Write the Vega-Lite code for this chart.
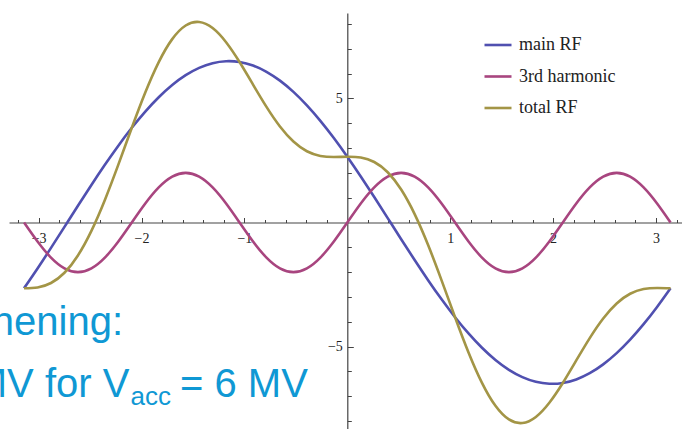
{
  "$schema": "https://vega.github.io/schema/vega-lite/v6.json",
  "width": 673,
  "height": 416,
  "autosize": {"type": "none"},
  "padding": {"left": 9, "top": 13, "right": 0, "bottom": 0},
  "background": "white",
  "config": {"view": {"stroke": null}},
  "datasets": {
    "curves": [
      {"x":-3.1416,"s":"main RF","y":-2.650},{"x":-3.0107,"s":"main RF","y":-1.853},{"x":-2.8798,"s":"main RF","y":-1.024},{"x":-2.7489,"s":"main RF","y":-0.177},{"x":-2.618,"s":"main RF","y":0.673},{"x":-2.4871,"s":"main RF","y":1.511},{"x":-2.3562,"s":"main RF","y":2.323},{"x":-2.2253,"s":"main RF","y":3.096},{"x":-2.0944,"s":"main RF","y":3.815},{"x":-1.9635,"s":"main RF","y":4.470},{"x":-1.8326,"s":"main RF","y":5.047},{"x":-1.7017,"s":"main RF","y":5.539},{"x":-1.5708,"s":"main RF","y":5.936},{"x":-1.4399,"s":"main RF","y":6.230},{"x":-1.309,"s":"main RF","y":6.419},{"x":-1.1781,"s":"main RF","y":6.497},{"x":-1.0472,"s":"main RF","y":6.465},{"x":-0.9163,"s":"main RF","y":6.322},{"x":-0.7854,"s":"main RF","y":6.071},{"x":-0.6545,"s":"main RF","y":5.715},{"x":-0.5236,"s":"main RF","y":5.262},{"x":-0.3927,"s":"main RF","y":4.719},{"x":-0.2618,"s":"main RF","y":4.096},{"x":-0.1309,"s":"main RF","y":3.403},{"x":0,"s":"main RF","y":2.650},{"x":0.1309,"s":"main RF","y":1.853},{"x":0.2618,"s":"main RF","y":1.024},{"x":0.3927,"s":"main RF","y":0.177},{"x":0.5236,"s":"main RF","y":-0.673},{"x":0.6545,"s":"main RF","y":-1.511},{"x":0.7854,"s":"main RF","y":-2.323},{"x":0.9163,"s":"main RF","y":-3.096},{"x":1.0472,"s":"main RF","y":-3.815},{"x":1.1781,"s":"main RF","y":-4.470},{"x":1.309,"s":"main RF","y":-5.047},{"x":1.4399,"s":"main RF","y":-5.539},{"x":1.5708,"s":"main RF","y":-5.936},{"x":1.7017,"s":"main RF","y":-6.230},{"x":1.8326,"s":"main RF","y":-6.419},{"x":1.9635,"s":"main RF","y":-6.497},{"x":2.0944,"s":"main RF","y":-6.465},{"x":2.2253,"s":"main RF","y":-6.322},{"x":2.3562,"s":"main RF","y":-6.071},{"x":2.4871,"s":"main RF","y":-5.715},{"x":2.618,"s":"main RF","y":-5.262},{"x":2.7489,"s":"main RF","y":-4.719},{"x":2.8798,"s":"main RF","y":-4.096},{"x":3.0107,"s":"main RF","y":-3.403},{"x":3.1416,"s":"main RF","y":-2.650},
      {"x":-3.1416,"s":"3rd harmonic","y":0},{"x":-3.0107,"s":"3rd harmonic","y":-0.765},{"x":-2.8798,"s":"3rd harmonic","y":-1.414},{"x":-2.7489,"s":"3rd harmonic","y":-1.848},{"x":-2.618,"s":"3rd harmonic","y":-2},{"x":-2.4871,"s":"3rd harmonic","y":-1.848},{"x":-2.3562,"s":"3rd harmonic","y":-1.414},{"x":-2.2253,"s":"3rd harmonic","y":-0.765},{"x":-2.0944,"s":"3rd harmonic","y":0},{"x":-1.9635,"s":"3rd harmonic","y":0.765},{"x":-1.8326,"s":"3rd harmonic","y":1.414},{"x":-1.7017,"s":"3rd harmonic","y":1.848},{"x":-1.5708,"s":"3rd harmonic","y":2},{"x":-1.4399,"s":"3rd harmonic","y":1.848},{"x":-1.309,"s":"3rd harmonic","y":1.414},{"x":-1.1781,"s":"3rd harmonic","y":0.765},{"x":-1.0472,"s":"3rd harmonic","y":0},{"x":-0.9163,"s":"3rd harmonic","y":-0.765},{"x":-0.7854,"s":"3rd harmonic","y":-1.414},{"x":-0.6545,"s":"3rd harmonic","y":-1.848},{"x":-0.5236,"s":"3rd harmonic","y":-2},{"x":-0.3927,"s":"3rd harmonic","y":-1.848},{"x":-0.2618,"s":"3rd harmonic","y":-1.414},{"x":-0.1309,"s":"3rd harmonic","y":-0.765},{"x":0,"s":"3rd harmonic","y":0},{"x":0.1309,"s":"3rd harmonic","y":0.765},{"x":0.2618,"s":"3rd harmonic","y":1.414},{"x":0.3927,"s":"3rd harmonic","y":1.848},{"x":0.5236,"s":"3rd harmonic","y":2},{"x":0.6545,"s":"3rd harmonic","y":1.848},{"x":0.7854,"s":"3rd harmonic","y":1.414},{"x":0.9163,"s":"3rd harmonic","y":0.765},{"x":1.0472,"s":"3rd harmonic","y":0},{"x":1.1781,"s":"3rd harmonic","y":-0.765},{"x":1.309,"s":"3rd harmonic","y":-1.414},{"x":1.4399,"s":"3rd harmonic","y":-1.848},{"x":1.5708,"s":"3rd harmonic","y":-2},{"x":1.7017,"s":"3rd harmonic","y":-1.848},{"x":1.8326,"s":"3rd harmonic","y":-1.414},{"x":1.9635,"s":"3rd harmonic","y":-0.765},{"x":2.0944,"s":"3rd harmonic","y":0},{"x":2.2253,"s":"3rd harmonic","y":0.765},{"x":2.3562,"s":"3rd harmonic","y":1.414},{"x":2.4871,"s":"3rd harmonic","y":1.848},{"x":2.618,"s":"3rd harmonic","y":2},{"x":2.7489,"s":"3rd harmonic","y":1.848},{"x":2.8798,"s":"3rd harmonic","y":1.414},{"x":3.0107,"s":"3rd harmonic","y":0.765},{"x":3.1416,"s":"3rd harmonic","y":0},
      {"x":-3.1416,"s":"total RF","y":-2.650},{"x":-3.0107,"s":"total RF","y":-2.618},{"x":-2.8798,"s":"total RF","y":-2.438},{"x":-2.7489,"s":"total RF","y":-2.025},{"x":-2.618,"s":"total RF","y":-1.327},{"x":-2.4871,"s":"total RF","y":-0.337},{"x":-2.3562,"s":"total RF","y":0.909},{"x":-2.2253,"s":"total RF","y":2.331},{"x":-2.0944,"s":"total RF","y":3.815},{"x":-1.9635,"s":"total RF","y":5.235},{"x":-1.8326,"s":"total RF","y":6.461},{"x":-1.7017,"s":"total RF","y":7.387},{"x":-1.5708,"s":"total RF","y":7.936},{"x":-1.4399,"s":"total RF","y":8.078},{"x":-1.309,"s":"total RF","y":7.833},{"x":-1.1781,"s":"total RF","y":7.262},{"x":-1.0472,"s":"total RF","y":6.465},{"x":-0.9163,"s":"total RF","y":5.557},{"x":-0.7854,"s":"total RF","y":4.657},{"x":-0.6545,"s":"total RF","y":3.867},{"x":-0.5236,"s":"total RF","y":3.262},{"x":-0.3927,"s":"total RF","y":2.871},{"x":-0.2618,"s":"total RF","y":2.682},{"x":-0.1309,"s":"total RF","y":2.638},{"x":0,"s":"total RF","y":2.650},{"x":0.1309,"s":"total RF","y":2.618},{"x":0.2618,"s":"total RF","y":2.438},{"x":0.3927,"s":"total RF","y":2.025},{"x":0.5236,"s":"total RF","y":1.327},{"x":0.6545,"s":"total RF","y":0.337},{"x":0.7854,"s":"total RF","y":-0.909},{"x":0.9163,"s":"total RF","y":-2.331},{"x":1.0472,"s":"total RF","y":-3.815},{"x":1.1781,"s":"total RF","y":-5.235},{"x":1.309,"s":"total RF","y":-6.461},{"x":1.4399,"s":"total RF","y":-7.387},{"x":1.5708,"s":"total RF","y":-7.936},{"x":1.7017,"s":"total RF","y":-8.078},{"x":1.8326,"s":"total RF","y":-7.833},{"x":1.9635,"s":"total RF","y":-7.262},{"x":2.0944,"s":"total RF","y":-6.465},{"x":2.2253,"s":"total RF","y":-5.557},{"x":2.3562,"s":"total RF","y":-4.657},{"x":2.4871,"s":"total RF","y":-3.867},{"x":2.618,"s":"total RF","y":-3.262},{"x":2.7489,"s":"total RF","y":-2.871},{"x":2.8798,"s":"total RF","y":-2.682},{"x":3.0107,"s":"total RF","y":-2.638},{"x":3.1416,"s":"total RF","y":-2.650}
    ],
    "bigRight": [
      {"x": -2.179, "y": -4.52, "t": "hening:"},
      {"x": -2.118, "y": -7.03, "t": "MV for V"}
    ],
    "sub": [
      {"x": -2.107, "y": -7.35, "t": "acc"}
    ],
    "bigLeft": [
      {"x": -1.626, "y": -7.03, "t": "= 6 MV"}
    ]
  },
  "resolve": {"axis": {"x": "independent", "y": "independent"}},
  "layer": [
    {
      "data": {"name": "curves"},
      "mark": {"type": "line", "interpolate": "natural", "strokeWidth": 2.6, "clip": true},
      "encoding": {
        "x": {
          "field": "x", "type": "quantitative",
          "scale": {"domain": [-3.288, 3.253], "nice": false, "zero": false},
          "axis": {
            "orient": "bottom", "offset": -206.5, "title": null, "grid": false,
            "values": [-3, -2, -1, 1, 2, 3], "format": "d",
            "tickSize": -5,
            "domainColor": "#444444", "tickColor": "#444444", "domainWidth": 1.2, "tickWidth": 1,
            "labelFont": "Liberation Serif", "labelFontSize": 14, "labelColor": "#222222",
            "labelPadding": 14, "labelOverlap": false, "labelFlush": false, "labelBound": false
          }
        },
        "y": {
          "field": "y", "type": "quantitative",
          "scale": {"domain": [-8.32, 8.44], "nice": false, "zero": false},
          "axis": {
            "orient": "left", "offset": -338.3, "title": null, "grid": false,
            "values": [-5, 5], "format": "d",
            "tickSize": -6,
            "domainColor": "#444444", "tickColor": "#444444", "domainWidth": 1.2, "tickWidth": 1,
            "labelFont": "Liberation Serif", "labelFontSize": 14, "labelColor": "#222222",
            "labelPadding": 11, "labelOverlap": false, "labelFlush": false, "labelBound": false
          }
        },
        "color": {
          "field": "s", "type": "nominal",
          "scale": {"domain": ["main RF", "3rd harmonic", "total RF"], "range": ["#5050b0", "#a8457f", "#a39546"]},
          "legend": {
            "orient": "none", "legendX": 474, "legendY": 17, "title": null, "padding": 0,
            "symbolType": "stroke", "symbolSize": 729, "symbolStrokeWidth": 2.6,
            "labelFont": "Liberation Serif", "labelFontSize": 18, "labelColor": "#222222",
            "labelOffset": 6, "rowPadding": 7.5
          }
        }
      }
    },
    {
      "data": {"name": "bigLeft"},
      "mark": {"type": "text", "align": "left", "baseline": "alphabetic", "font": "Liberation Sans", "fontSize": 40, "color": "#0f98d4"},
      "encoding": {
        "x": {
          "field": "x", "type": "quantitative",
          "axis": {
            "orient": "bottom", "offset": -206.5, "title": null, "grid": false, "labels": false, "domain": false,
            "values": [-3.2,-2.8,-2.6,-2.4,-2.2,-1.8,-1.6,-1.4,-1.2,-0.8,-0.6,-0.4,-0.2,0.2,0.4,0.6,0.8,1.2,1.4,1.6,1.8,2.2,2.4,2.6,2.8,3.2],
            "tickSize": -3, "tickColor": "#444444", "tickWidth": 1
          }
        },
        "y": {
          "field": "y", "type": "quantitative",
          "axis": {
            "orient": "left", "offset": -338.3, "title": null, "grid": false, "labels": false, "domain": false,
            "values": [-8,-7,-6,-4,-3,-2,-1,1,2,3,4,6,7,8],
            "tickSize": -4, "tickColor": "#444444", "tickWidth": 1
          }
        },
        "text": {"field": "t"}
      }
    },
    {
      "data": {"name": "bigRight"},
      "mark": {"type": "text", "align": "right", "baseline": "alphabetic", "font": "Liberation Sans", "fontSize": 40, "color": "#0f98d4"},
      "encoding": {
        "x": {"field": "x", "type": "quantitative", "axis": null},
        "y": {"field": "y", "type": "quantitative", "axis": null},
        "text": {"field": "t"}
      }
    },
    {
      "data": {"name": "sub"},
      "mark": {"type": "text", "align": "left", "baseline": "alphabetic", "font": "Liberation Sans", "fontSize": 26, "color": "#0f98d4"},
      "encoding": {
        "x": {"field": "x", "type": "quantitative", "axis": null},
        "y": {"field": "y", "type": "quantitative", "axis": null},
        "text": {"field": "t"}
      }
    }
  ]
}
